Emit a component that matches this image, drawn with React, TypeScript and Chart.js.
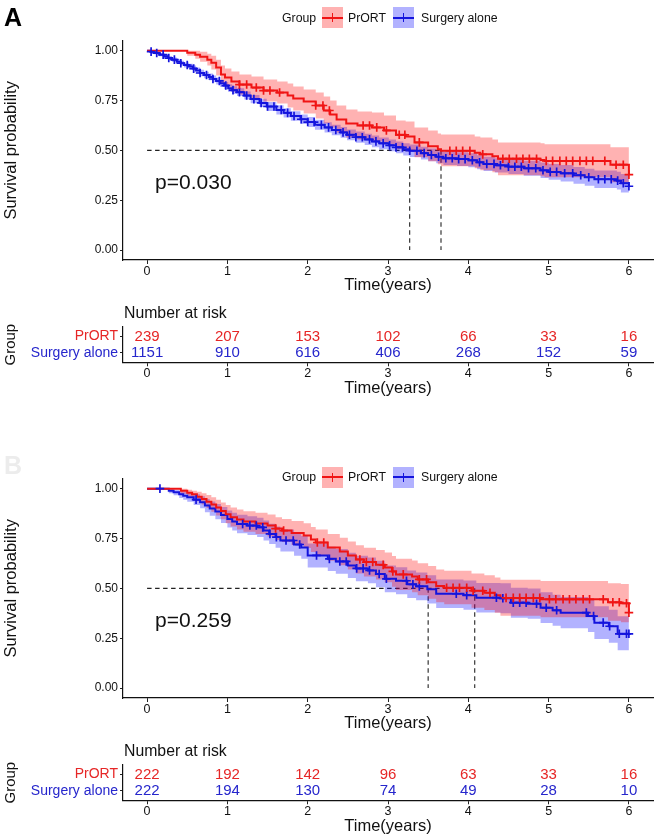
import React, { useEffect, useRef } from 'react';
import { Chart, registerables } from 'chart.js';
Chart.register(...registerables);

const FONT = "'Liberation Sans', Arial, Helvetica, sans-serif";
const RED = '#f01414';
const BLUE = '#1414dd';
const RED_BAND = 'rgba(255,0,0,0.3)';
const BLUE_BAND = 'rgba(0,0,255,0.3)';
const RED_TXT = '#e62626';
const BLUE_TXT = '#2626cc';

const timeTicks = [0, 1, 2, 3, 4, 5, 6];
const survTicks = [0, 0.25, 0.5, 0.75, 1];
const groups = ['PrORT', 'Surgery alone'];

// ---------- Panel A ----------
const aRedTime = [0, 0.5, 0.6, 0.66, 0.75, 0.8, 0.86, 0.92, 0.97, 1.05, 1.15, 1.3, 1.45, 1.62, 1.75, 1.82, 1.95, 2.1, 2.2, 2.28, 2.36, 2.48, 2.62, 2.8, 2.95, 3.1, 3.22, 3.33, 3.5, 3.62, 3.66, 4.08, 4.15, 4.3, 4.37, 4.9, 4.95, 5.77, 6.0];
const aRedSurv = [1, 0.99, 0.98, 0.97, 0.955, 0.94, 0.915, 0.88, 0.865, 0.845, 0.83, 0.815, 0.8, 0.79, 0.775, 0.76, 0.745, 0.725, 0.7, 0.68, 0.655, 0.635, 0.625, 0.615, 0.6, 0.578, 0.57, 0.54, 0.52, 0.505, 0.498, 0.488, 0.48, 0.47, 0.458, 0.452, 0.447, 0.428, 0.378];
const aRedUpper = [1, 1, 1, 0.995, 0.985, 0.975, 0.955, 0.925, 0.91, 0.895, 0.88, 0.87, 0.855, 0.845, 0.835, 0.82, 0.805, 0.79, 0.77, 0.75, 0.725, 0.705, 0.695, 0.69, 0.675, 0.65, 0.645, 0.615, 0.6, 0.585, 0.58, 0.57, 0.565, 0.555, 0.54, 0.535, 0.53, 0.515, 0.47];
const aRedLower = [1, 0.975, 0.96, 0.945, 0.925, 0.905, 0.875, 0.835, 0.82, 0.795, 0.78, 0.76, 0.745, 0.735, 0.715, 0.7, 0.685, 0.66, 0.635, 0.615, 0.59, 0.565, 0.555, 0.545, 0.53, 0.505, 0.495, 0.465, 0.445, 0.43, 0.42, 0.41, 0.4, 0.39, 0.375, 0.37, 0.365, 0.34, 0.3];
const aRedCensor = [1.15, 1.24, 1.36, 1.45, 1.53, 1.65, 2.1, 2.19, 2.27, 2.69, 2.77, 2.86, 2.98, 3.14, 3.21, 3.39, 3.77, 3.85, 3.93, 4.02, 4.18, 4.43, 4.51, 4.6, 4.68, 4.76, 4.85, 4.97, 5.05, 5.14, 5.22, 5.3, 5.39, 5.47, 5.55, 5.7, 5.84, 5.93, 6.0];

const aBlueTime = [0, 0.04, 0.09, 0.15, 0.21, 0.26, 0.31, 0.37, 0.42, 0.46, 0.52, 0.57, 0.61, 0.66, 0.71, 0.77, 0.82, 0.86, 0.91, 0.96, 1.01, 1.06, 1.12, 1.21, 1.29, 1.4, 1.49, 1.61, 1.7, 1.79, 1.91, 2.0, 2.09, 2.21, 2.3, 2.41, 2.49, 2.6, 2.71, 2.8, 2.89, 3.01, 3.1, 3.19, 3.27, 3.41, 3.5, 3.6, 3.69, 3.86, 4.0, 4.11, 4.19, 4.33, 4.5, 4.69, 4.9, 5.0, 5.15, 5.31, 5.45, 5.57, 5.85, 5.9, 6.0];
const aBlueSurv = [1, 0.995, 0.988, 0.98, 0.972, 0.963, 0.955, 0.945, 0.937, 0.928, 0.92, 0.91, 0.9, 0.888, 0.878, 0.868, 0.858, 0.848, 0.836, 0.825, 0.812, 0.802, 0.792, 0.775, 0.757, 0.738, 0.72, 0.703, 0.688, 0.672, 0.656, 0.642, 0.628, 0.615, 0.602, 0.59, 0.578, 0.566, 0.555, 0.545, 0.535, 0.525, 0.515, 0.505, 0.498, 0.486, 0.477, 0.468, 0.46, 0.456, 0.45, 0.44, 0.432, 0.425, 0.418, 0.41, 0.4, 0.392, 0.385, 0.375, 0.365, 0.355, 0.348, 0.335, 0.32];
const aBlueUpper = [1, 1, 0.994, 0.988, 0.981, 0.973, 0.966, 0.957, 0.95, 0.941, 0.934, 0.925, 0.915, 0.904, 0.894, 0.885, 0.875, 0.866, 0.854, 0.843, 0.831, 0.821, 0.812, 0.795, 0.778, 0.759, 0.742, 0.726, 0.711, 0.696, 0.68, 0.667, 0.653, 0.641, 0.628, 0.617, 0.605, 0.594, 0.583, 0.574, 0.564, 0.555, 0.545, 0.536, 0.529, 0.518, 0.509, 0.501, 0.493, 0.49, 0.485, 0.475, 0.468, 0.461, 0.455, 0.448, 0.439, 0.432, 0.426, 0.417, 0.408, 0.399, 0.393, 0.381, 0.367];
const aBlueLower = [1, 0.99, 0.982, 0.972, 0.963, 0.953, 0.944, 0.933, 0.924, 0.915, 0.906, 0.895, 0.885, 0.872, 0.862, 0.851, 0.841, 0.83, 0.818, 0.807, 0.793, 0.783, 0.772, 0.755, 0.736, 0.717, 0.698, 0.68, 0.665, 0.648, 0.632, 0.617, 0.603, 0.589, 0.576, 0.563, 0.551, 0.538, 0.527, 0.516, 0.506, 0.495, 0.485, 0.474, 0.467, 0.454, 0.445, 0.435, 0.427, 0.422, 0.415, 0.405, 0.396, 0.389, 0.381, 0.372, 0.361, 0.352, 0.344, 0.333, 0.322, 0.311, 0.303, 0.289, 0.273];
const aBlueCensor = [0.05, 0.12, 0.2, 0.27, 0.34, 0.42, 0.5, 0.58, 0.66, 0.74, 0.82, 0.9, 0.98, 1.07, 1.15, 1.24, 1.33, 1.42, 1.5, 1.58, 1.67, 1.75, 1.83, 1.92, 2.0, 2.08, 2.17, 2.26, 2.35, 2.44, 2.52, 2.6, 2.68, 2.77, 2.85, 2.94, 3.02, 3.1, 3.18, 3.27, 3.36, 3.45, 3.54, 3.63, 3.72, 3.8, 3.88, 3.96, 4.05, 4.14, 4.23, 4.32, 4.4, 4.5, 4.58, 4.66, 4.75, 4.84, 4.93, 5.02, 5.1, 5.2, 5.3, 5.4, 5.5, 5.62, 5.7, 5.78, 5.86, 5.93, 6.0];

const aMedians = [3.27, 3.66];
const aRiskPrORT = [239, 207, 153, 102, 66, 33, 16];
const aRiskSurgery = [1151, 910, 616, 406, 268, 152, 59];
const aPValue = 'p=0.030';

// ---------- Panel B ----------
const bRedTime = [0, 0.42, 0.5, 0.56, 0.62, 0.68, 0.74, 0.8, 0.86, 0.92, 0.98, 1.04, 1.12, 1.2, 1.35, 1.5, 1.6, 1.68, 1.8, 1.95, 2.04, 2.1, 2.25, 2.4, 2.5, 2.6, 2.7, 2.85, 2.96, 3.05, 3.1, 3.3, 3.37, 3.5, 3.6, 3.7, 4.04, 4.2, 4.33, 4.4, 4.9, 5.74, 5.9, 6.0];
const bRedSurv = [1, 0.99, 0.98, 0.972, 0.96, 0.948, 0.935, 0.92, 0.905, 0.888, 0.872, 0.857, 0.845, 0.835, 0.825, 0.815, 0.8, 0.79, 0.778, 0.765, 0.745, 0.73, 0.705, 0.685, 0.665, 0.645, 0.632, 0.618, 0.605, 0.585, 0.57, 0.56, 0.545, 0.53, 0.512, 0.503, 0.488, 0.478, 0.465, 0.452, 0.445, 0.43, 0.425, 0.378];
const bRedUpper = [1, 1, 0.995, 0.99, 0.985, 0.977, 0.968, 0.957, 0.945, 0.93, 0.918, 0.905, 0.895, 0.887, 0.879, 0.87, 0.857, 0.848, 0.838, 0.827, 0.808, 0.795, 0.772, 0.754, 0.735, 0.716, 0.704, 0.692, 0.68, 0.662, 0.648, 0.64, 0.626, 0.612, 0.595, 0.588, 0.575, 0.566, 0.555, 0.543, 0.537, 0.525, 0.522, 0.48];
const bRedLower = [1, 0.975, 0.962, 0.952, 0.937, 0.92, 0.903, 0.884, 0.866, 0.846, 0.827, 0.81, 0.795, 0.784, 0.772, 0.76, 0.743, 0.732, 0.718, 0.703, 0.682, 0.665, 0.638, 0.616, 0.595, 0.574, 0.56, 0.545, 0.53, 0.508, 0.492, 0.48, 0.465, 0.448, 0.43, 0.42, 0.403, 0.392, 0.378, 0.363, 0.355, 0.337, 0.33, 0.28];
const bRedCensor = [1.6, 1.7, 2.12, 2.2, 2.65, 2.73, 2.81, 2.94, 3.06, 3.19, 3.39, 3.48, 3.73, 3.81, 3.89, 3.98, 4.06, 4.18, 4.27, 4.47, 4.56, 4.64, 4.72, 4.81, 4.89, 5.01, 5.09, 5.18, 5.26, 5.34, 5.43, 5.51, 5.68, 5.8, 5.88, 5.97, 6.0];

const bBlueTime = [0, 0.27, 0.33, 0.4, 0.45, 0.5, 0.58, 0.66, 0.72, 0.78, 0.85, 0.92, 1.0, 1.06, 1.12, 1.25, 1.37, 1.45, 1.52, 1.6, 1.66, 1.83, 1.92, 2.0, 2.25, 2.35, 2.5, 2.6, 2.75, 2.85, 2.96, 3.1, 3.24, 3.35, 3.49, 3.6, 3.94, 4.1, 4.4, 4.53, 4.74, 4.9, 5.05, 5.15, 5.49, 5.57, 5.75, 5.86, 6.0];
const bBlueSurv = [1, 0.99, 0.982, 0.972, 0.965, 0.957, 0.945, 0.932, 0.915, 0.9, 0.885, 0.868, 0.848, 0.835, 0.823, 0.815, 0.806, 0.79, 0.773, 0.757, 0.74, 0.72, 0.705, 0.665, 0.648, 0.635, 0.615, 0.6, 0.59, 0.572, 0.548, 0.538, 0.52, 0.51, 0.495, 0.473, 0.466, 0.453, 0.45, 0.428, 0.423, 0.403, 0.39, 0.378, 0.361, 0.328, 0.31, 0.272, 0.272];
const bBlueUpper = [1, 1, 0.995, 0.99, 0.985, 0.98, 0.972, 0.962, 0.948, 0.936, 0.923, 0.908, 0.891, 0.879, 0.869, 0.862, 0.854, 0.84, 0.824, 0.81, 0.795, 0.776, 0.762, 0.725, 0.709, 0.697, 0.678, 0.664, 0.655, 0.638, 0.615, 0.606, 0.589, 0.58, 0.566, 0.545, 0.539, 0.527, 0.525, 0.503, 0.499, 0.48, 0.468, 0.456, 0.441, 0.41, 0.393, 0.36, 0.36];
const bBlueLower = [1, 0.977, 0.967, 0.953, 0.944, 0.934, 0.918, 0.902, 0.882, 0.864, 0.847, 0.828, 0.805, 0.79, 0.777, 0.768, 0.758, 0.74, 0.722, 0.704, 0.685, 0.664, 0.648, 0.605, 0.587, 0.573, 0.552, 0.536, 0.525, 0.506, 0.481, 0.47, 0.451, 0.44, 0.424, 0.401, 0.393, 0.379, 0.375, 0.353, 0.347, 0.326, 0.312, 0.3, 0.281, 0.246, 0.227, 0.19, 0.19];
const bBlueCensor = [0.16, 0.61, 1.19, 1.28, 1.36, 1.44, 1.53, 1.61, 1.73, 1.82, 1.9, 2.11, 2.27, 2.4, 2.48, 2.61, 2.69, 2.77, 2.89, 2.98, 3.23, 3.31, 3.39, 3.85, 3.98, 4.35, 4.43, 4.56, 4.64, 4.72, 4.85, 4.97, 5.1, 5.47, 5.56, 5.68, 5.76, 5.88, 5.97, 6.0];

const bMedians = [3.5, 4.08];
const bRiskPrORT = [222, 192, 142, 96, 63, 33, 16];
const bRiskSurgery = [222, 194, 130, 74, 49, 28, 10];
const bPValue = 'p=0.259';

type Curve = { time: number[]; surv: number[]; upper: number[]; lower: number[]; censor: number[]; color: string; band: string };
type Panel = { red: Curve; blue: Curve; medians: number[]; riskRed: number[]; riskBlue: number[]; pval: string };

const panelA: Panel = {
  red: { time: aRedTime, surv: aRedSurv, upper: aRedUpper, lower: aRedLower, censor: aRedCensor, color: RED, band: RED_BAND },
  blue: { time: aBlueTime, surv: aBlueSurv, upper: aBlueUpper, lower: aBlueLower, censor: aBlueCensor, color: BLUE, band: BLUE_BAND },
  medians: aMedians, riskRed: aRiskPrORT, riskBlue: aRiskSurgery, pval: aPValue,
};
const panelB: Panel = {
  red: { time: bRedTime, surv: bRedSurv, upper: bRedUpper, lower: bRedLower, censor: bRedCensor, color: RED, band: RED_BAND },
  blue: { time: bBlueTime, surv: bBlueSurv, upper: bBlueUpper, lower: bBlueLower, censor: bBlueCensor, color: BLUE, band: BLUE_BAND },
  medians: bMedians, riskRed: bRiskPrORT, riskBlue: bRiskSurgery, pval: bPValue,
};

const toPts = (t: number[], v: number[]) => t.map((x, i) => ({ x, y: v[i] }));
const survAt = (t: number[], v: number[], c: number) => {
  let s = v[0];
  for (let i = 0; i < t.length; i++) if (t[i] <= c + 1e-9) s = v[i];
  return s;
};

function curveSets(c: Curve) {
  return {
    censor: {
      data: c.censor.map((x) => ({ x, y: survAt(c.time, c.surv, x) })),
      showLine: false, pointStyle: 'cross', pointRadius: 4.3, pointHoverRadius: 4.3, pointBorderWidth: 1.7,
      borderColor: c.color, pointBorderColor: c.color, backgroundColor: c.color, order: 0,
    },
    line: { data: toPts(c.time, c.surv), stepped: true, borderColor: c.color, borderWidth: 2, pointRadius: 0, fill: false, order: 1 },
    upper: { data: toPts(c.time, c.upper), stepped: true, borderWidth: 0, borderColor: 'rgba(0,0,0,0)', pointRadius: 0, fill: false, order: 2 },
    lower: { data: toPts(c.time, c.lower), stepped: true, borderWidth: 0, borderColor: 'rgba(0,0,0,0)', pointRadius: 0, fill: '-1', backgroundColor: c.band, order: 2 },
  };
}

const dashStyle = { borderColor: '#222', borderWidth: 1.1, borderDash: [4.5, 3.5], pointRadius: 0, fill: false, order: 3 };

const xScale = (height: number, titlePadBottom: number) => ({
  type: 'linear', min: -0.3, max: 6.3,
  afterBuildTicks: (s: any) => { s.ticks = timeTicks.map((v) => ({ value: v })); },
  afterFit: (s: any) => { s.height = height; },
  ticks: { color: '#111', font: { family: FONT, size: 12.5 }, padding: 0, maxRotation: 0, autoSkip: false, callback: (v: any) => String(v) },
  grid: { drawOnChartArea: false, drawTicks: true, tickLength: 4, color: '#222', lineWidth: 1 },
  border: { display: true, color: '#111', width: 1.2 },
  title: { display: true, text: 'Time(years)', color: '#111', font: { family: FONT, size: 16.5 }, padding: { top: 0, bottom: titlePadBottom } },
});

const pvalPlugin = {
  id: 'pval',
  afterDatasetsDraw(chart: any, _a: any, opts: any) {
    const { ctx, scales } = chart;
    ctx.save();
    ctx.font = `21px ${FONT}`;
    ctx.fillStyle = '#111';
    ctx.textAlign = 'left';
    ctx.textBaseline = 'middle';
    ctx.fillText(opts.text, scales.x.getPixelForValue(opts.x), scales.y.getPixelForValue(opts.y));
    ctx.restore();
  },
};

const riskPlugin = {
  id: 'riskText',
  afterDatasetsDraw(chart: any, _a: any, opts: any) {
    const { ctx, scales } = chart;
    ctx.save();
    ctx.font = `15px ${FONT}`;
    ctx.textAlign = 'center';
    ctx.textBaseline = 'middle';
    opts.rows.forEach((row: number[], r: number) => {
      ctx.fillStyle = opts.colors[r];
      row.forEach((n, i) => ctx.fillText(String(n), scales.x.getPixelForValue(timeTicks[i]), scales.y.getPixelForValue(r + 1)));
    });
    ctx.restore();
  },
};

function makeKM(canvas: HTMLCanvasElement, p: Panel) {
  const r = curveSets(p.red);
  const b = curveSets(p.blue);
  const mMax = Math.max(...p.medians);
  const datasets: any[] = [
    r.censor, b.censor, r.line, b.line, r.upper, r.lower, b.upper, b.lower,
    { ...dashStyle, data: [{ x: 0, y: 0.5 }, { x: mMax, y: 0.5 }] },
    ...p.medians.map((m) => ({ ...dashStyle, data: [{ x: m, y: 0.5 }, { x: m, y: 0 }] })),
  ];
  return new Chart(canvas, {
    type: 'line',
    data: { datasets },
    options: {
      animation: false, responsive: false, events: [],
      layout: { padding: { top: 40.7, right: 6, left: 0, bottom: 0 } },
      plugins: { legend: { display: false }, tooltip: { enabled: false }, pval: { text: p.pval, x: 0.1, y: 0.335 } } as any,
      scales: {
        x: xScale(40, 5) as any,
        y: {
          type: 'linear', min: -0.05, max: 1.05,
          afterBuildTicks: (s: any) => { s.ticks = survTicks.map((v) => ({ value: v })); },
          afterFit: (s: any) => { s.width = 123; },
          ticks: { color: '#111', font: { family: FONT, size: 12 }, padding: 2, callback: (v: any) => Number(v).toFixed(2) },
          grid: { drawOnChartArea: false, drawTicks: true, tickLength: 3, color: '#222', lineWidth: 1 },
          border: { display: true, color: '#111', width: 1.2 },
          title: { display: true, text: 'Survival probability', color: '#111', font: { family: FONT, size: 16.5 }, padding: { top: 2, bottom: 0 } },
        } as any,
      },
    },
    plugins: [pvalPlugin as any],
  });
}

function makeRisk(canvas: HTMLCanvasElement, p: Panel) {
  return new Chart(canvas, {
    type: 'line',
    data: { datasets: [] },
    options: {
      animation: false, responsive: false, events: [],
      layout: { padding: { top: 37, right: 6, left: 0, bottom: 0 } },
      plugins: { legend: { display: false }, tooltip: { enabled: false }, riskText: { rows: [p.riskRed, p.riskBlue], colors: [RED_TXT, BLUE_TXT] } } as any,
      scales: {
        x: xScale(35.7, 0) as any,
        y: {
          type: 'linear', min: 0.4, max: 2.6, reverse: true,
          afterBuildTicks: (s: any) => { s.ticks = [{ value: 1 }, { value: 2 }]; },
          afterFit: (s: any) => { s.width = 123; },
          ticks: {
            font: { family: FONT, size: 14 }, padding: 2,
            color: (c: any) => (c.index === 0 ? RED_TXT : BLUE_TXT),
            callback: (v: any) => groups[Math.round(Number(v)) - 1],
          },
          grid: { drawOnChartArea: false, drawTicks: true, tickLength: 3, color: '#222', lineWidth: 1 },
          border: { display: true, color: '#111', width: 1.2 },
          title: { display: true, text: 'Group', color: '#111', font: { family: FONT, size: 15 }, padding: { top: 1.7, bottom: 0 } },
        } as any,
      },
    },
    plugins: [riskPlugin as any],
  });
}

function Txt(props: { x: number; y: number; size: number; color?: string; weight?: number; children: React.ReactNode }) {
  return (
    <div style={{ position: 'absolute', left: props.x, top: props.y, transform: 'translateY(-50%)', fontSize: props.size, lineHeight: 1, color: props.color || '#111', fontWeight: props.weight || 400, whiteSpace: 'nowrap', fontFamily: FONT }}>
      {props.children}
    </div>
  );
}

function Key(props: { x: number; y: number; color: string; band: string }) {
  return (
    <div style={{ position: 'absolute', left: props.x, top: props.y, width: 21, height: 21, background: props.band }}>
      <div style={{ position: 'absolute', left: 0, right: 0, top: 9.5, height: 2, background: props.color }} />
      <div style={{ position: 'absolute', left: 9.7, top: 6, width: 1.6, height: 9, background: props.color }} />
    </div>
  );
}

function Legend(props: { cy: number }) {
  const top = props.cy - 10.5;
  return (
    <>
      <Txt x={282} y={props.cy} size={12.3}>Group</Txt>
      <Key x={322} y={top} color={RED} band={RED_BAND} />
      <Txt x={348} y={props.cy} size={12.3}>{groups[0]}</Txt>
      <Key x={393} y={top} color={BLUE} band={BLUE_BAND} />
      <Txt x={421} y={props.cy} size={12.3}>{groups[1]}</Txt>
    </>
  );
}

export default function App() {
  const kmA = useRef<HTMLCanvasElement>(null);
  const tabA = useRef<HTMLCanvasElement>(null);
  const kmB = useRef<HTMLCanvasElement>(null);
  const tabB = useRef<HTMLCanvasElement>(null);

  useEffect(() => {
    const charts = [
      makeKM(kmA.current!, panelA),
      makeRisk(tabA.current!, panelA),
      makeKM(kmB.current!, panelB),
      makeRisk(tabB.current!, panelB),
    ];
    return () => charts.forEach((c) => c.destroy());
  }, []);

  const cv = (top: number, h: number): React.CSSProperties => ({ position: 'absolute', left: 0, top, width: 659, height: h, display: 'block' });

  return (
    <div style={{ position: 'absolute', left: 0, top: 0, width: 659, height: 838, overflow: 'hidden', background: '#fff', fontFamily: FONT }}>
      <canvas ref={kmA} width={659} height={300} style={cv(0, 300)} />
      <canvas ref={tabA} width={659} height={108} style={cv(290, 108)} />
      <canvas ref={kmB} width={659} height={300} style={cv(438, 300)} />
      <canvas ref={tabB} width={659} height={108} style={cv(728, 108)} />

      <Txt x={4} y={17} size={25} weight={700} color="#000">A</Txt>
      <Legend cy={17.7} />
      <Txt x={124} y={313} size={15.8}>Number at risk</Txt>

      <Txt x={4} y={465} size={25} weight={700} color="#ececec">B</Txt>
      <Legend cy={477} />
      <Txt x={124} y={751} size={15.8}>Number at risk</Txt>
    </div>
  );
}
